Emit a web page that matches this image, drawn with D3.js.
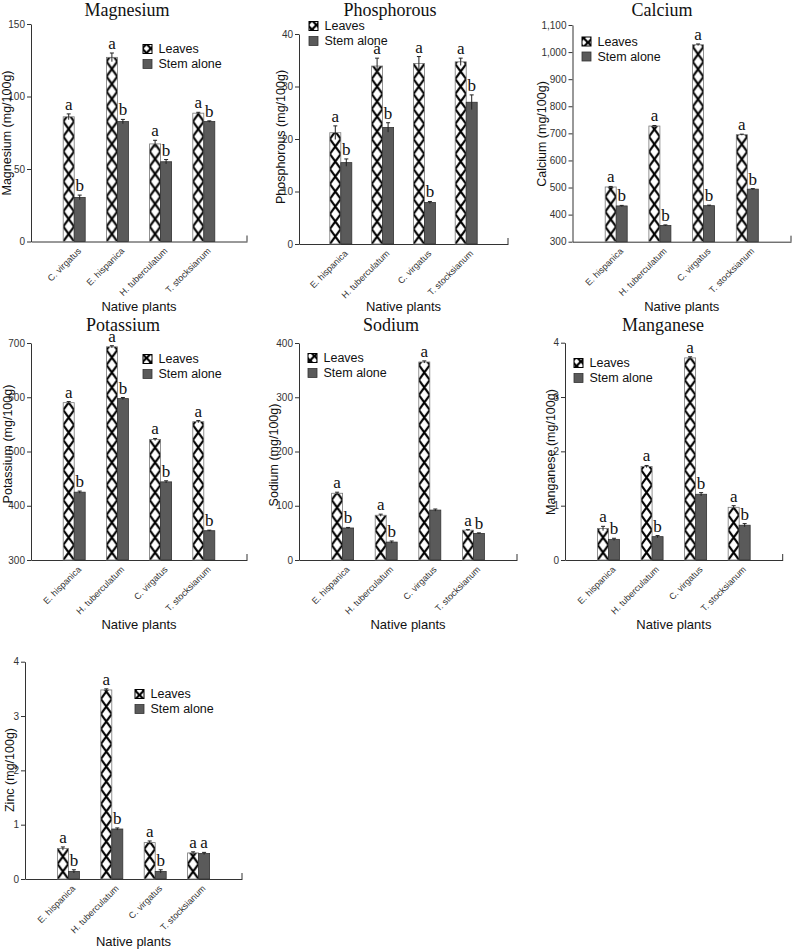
<!DOCTYPE html>
<html>
<head>
<meta charset="utf-8">
<script src="https://cdn.jsdelivr.net/npm/d3@7"></script>
<style>
  body { margin: 0; background: #fff; }
</style>
</head>
<body>
<svg id="chart" width="792" height="950" font-family="'Liberation Sans', Arial, sans-serif"></svg>
<script>
// Categories (order differs in the magnesium panel)
const plantsMg = ['C. virgatus', 'E. hispanica', 'H. tuberculatum', 'T. stocksianum'];
const plants = ['E. hispanica', 'H. tuberculatum', 'C. virgatus', 'T. stocksianum'];

// Magnesium
const mgLeaves = [86, 127, 67.3, 88.5];
const mgStem = [30.4, 82.7, 55, 82.7];
const mgLeavesErr = [2, 3, 2.5, 0.6];
const mgStemErr = [1.6, 1.5, 1.5, 0.5];
const mgTicks = [0, 50, 100, 150];

// Phosphorous
const pLeaves = [21.2, 33.9, 34.4, 34.7];
const pStem = [15.5, 22.2, 7.9, 27.0];
const pLeavesErr = [1.3, 1.5, 1.3, 0.7];
const pStemErr = [0.7, 0.9, 0.2, 1.4];
const pTicks = [0, 10, 20, 30, 40];

// Calcium
const caLeaves = [502, 727, 1027, 695];
const caStem = [432, 360, 433, 494];
const caLeavesErr = [2, 2, 3, 2];
const caStemErr = [2, 2, 2, 2];
const caTicks = [300, 400, 500, 600, 700, 800, 900, 1000, 1100];

// Potassium
const kLeaves = [590, 693, 522, 555];
const kStem = [425, 597.5, 444, 354];
const kLeavesErr = [2, 2, 2, 2];
const kStemErr = [2, 2, 2, 1];
const kTicks = [300, 400, 500, 600, 700];

// Sodium
const naLeaves = [123, 82.5, 365, 55];
const naStem = [59, 33, 92, 49];
const naLeavesErr = [2, 2, 2, 1];
const naStemErr = [1, 2, 2, 1];
const naTicks = [0, 100, 200, 300, 400];

// Manganese
const mnLeaves = [0.58, 1.72, 3.72, 0.97];
const mnStem = [0.38, 0.43, 1.21, 0.64];
const mnLeavesErr = [0.04, 0.02, 0.02, 0.03];
const mnStemErr = [0.02, 0.02, 0.03, 0.03];
const mnTicks = [0, 1, 2, 3, 4];

// Zinc
const znLeaves = [0.56, 3.48, 0.67, 0.48];
const znStem = [0.14, 0.92, 0.14, 0.47];
const znLeavesErr = [0.03, 0.02, 0.03, 0.02];
const znStemErr = [0.03, 0.02, 0.03, 0.02];
const znTicks = [0, 1, 2, 3, 4];

// Significance letters
const lettersLeaves = ['a', 'a', 'a', 'a'];
const lettersStem = ['b', 'b', 'b', 'b'];
const lettersStemNa = ['b', 'b', '', 'b'];
const lettersStemZn = ['b', 'b', 'b', 'a'];

const svg = d3.select('#chart');
const defs = svg.append('defs');

const barW = 11;       // width of each bar
const tileH = 15;      // height of one hatch cell
const stemFill = '#5a5a5a';
const serif = "'Liberation Serif', 'Times New Roman', serif";

function hatch(id, x, y, w, h) {
  const p = defs.append('pattern')
    .attr('id', id)
    .attr('patternUnits', 'userSpaceOnUse')
    .attr('x', x).attr('y', y)
    .attr('width', w).attr('height', h);
  p.append('rect').attr('width', w).attr('height', h).attr('fill', '#fff');
  p.append('path')
    .attr('d', `M0,0L${w},${h}M${w},0L0,${h}`)
    .attr('stroke', '#000')
    .attr('stroke-width', 2.2);
}

function drawPanel(cfg) {
  const { id, box } = cfg;
  const g = svg.append('g');

  const x = d3.scalePoint()
    .domain(cfg.cats)
    .range([box.left, box.right])
    .padding(1);

  const y = d3.scaleLinear()
    .domain(cfg.domain)
    .range([box.bottom, box.top]);

  // y axis
  const yAxis = g.append('g')
    .attr('transform', `translate(${box.left},0)`)
    .call(d3.axisLeft(y).tickValues(cfg.ticks).tickSize(4).tickSizeOuter(0).tickPadding(2)
      .tickFormat(cfg.fmt || d3.format('d')));
  yAxis.select('.domain').attr('stroke', '#333');
  yAxis.selectAll('line').attr('stroke', '#333');
  yAxis.selectAll('text').attr('font-size', '10px').attr('fill', '#333')
    .attr('font-family', "'Liberation Sans Narrow', 'Liberation Sans', Arial, sans-serif");

  // x axis
  const xAxis = g.append('g')
    .attr('transform', `translate(0,${box.bottom})`)
    .call(d3.axisBottom(x).tickSize(0).tickSizeOuter(0));
  xAxis.select('.domain').attr('stroke', '#333');
  xAxis.selectAll('text')
    .attr('font-size', '9px')
    .attr('fill', '#333')
    .attr('font-family', "'Liberation Sans Narrow', 'Liberation Sans', Arial, sans-serif")
    .attr('text-anchor', 'end')
    .attr('x', 0).attr('y', 0).attr('dy', 0)
    .attr('transform', 'translate(7,10) rotate(-45)');
  g.append('line')
    .attr('x1', box.right).attr('x2', box.right)
    .attr('y1', box.bottom).attr('y2', box.bottom - 6)
    .attr('stroke', '#333');

  // bars
  const rows = cfg.cats.map((c, i) => ({
    cat: c, i,
    leaves: cfg.leaves[i], stem: cfg.stem[i],
    le: cfg.leavesErr[i], se: cfg.stemErr[i],
    ll: cfg.lettersL[i], sl: cfg.lettersS[i]
  }));

  rows.forEach(d => {
    hatch(`h-${id}-${d.i}`, x(d.cat) - barW, box.bottom, barW, tileH);
  });

  g.selectAll('rect.leaves')
    .data(rows)
    .enter()
    .append('rect')
    .attr('class', 'leaves')
    .attr('x', d => x(d.cat) - barW)
    .attr('y', d => y(d.leaves))
    .attr('width', barW)
    .attr('height', d => box.bottom - y(d.leaves))
    .attr('fill', d => `url(#h-${id}-${d.i})`)
    .attr('stroke', '#777')
    .attr('stroke-width', 0.8);

  g.selectAll('rect.stem')
    .data(rows)
    .enter()
    .append('rect')
    .attr('class', 'stem')
    .attr('x', d => x(d.cat))
    .attr('y', d => y(d.stem))
    .attr('width', barW)
    .attr('height', d => box.bottom - y(d.stem))
    .attr('fill', stemFill)
    .attr('stroke', '#333')
    .attr('stroke-width', 0.8);

  // error bars and letters
  const series = [
    { key: 'leaves', err: 'le', lab: 'll', dx: -barW / 2 },
    { key: 'stem', err: 'se', lab: 'sl', dx: barW / 2 }
  ];
  series.forEach(s => {
    g.selectAll(null)
      .data(rows)
      .enter()
      .append('path')
      .attr('d', d => {
        const cx = x(d.cat) + s.dx;
        const y1 = y(d[s.key] + d[s.err]);
        const y2 = y(d[s.key] - d[s.err]);
        return `M${cx},${y2}V${y1}M${cx - 2},${y1}H${cx + 2}`;
      })
      .attr('stroke', '#222')
      .attr('stroke-width', 1)
      .attr('fill', 'none');

    g.selectAll(null)
      .data(rows)
      .enter()
      .append('text')
      .attr('x', d => x(d.cat) + s.dx)
      .attr('y', d => y(d[s.key] + d[s.err]) - 4)
      .attr('text-anchor', 'middle')
      .attr('font-family', serif)
      .attr('font-size', '17px')
      .attr('fill', '#111')
      .text(d => d[s.lab]);
  });

  // titles
  if (cfg.title) {
    g.append('text')
      .attr('x', cfg.titlePos[0]).attr('y', cfg.titlePos[1])
      .attr('text-anchor', 'middle')
      .attr('font-family', serif)
      .attr('font-size', '18px')
      .attr('fill', '#111')
      .text(cfg.title);
  }

  g.append('text')
    .attr('transform', `translate(${cfg.yLabelPos[0]},${cfg.yLabelPos[1]}) rotate(-90)`)
    .attr('text-anchor', 'middle')
    .attr('dy', '0.35em')
    .attr('font-size', '12.5px')
    .attr('fill', '#111')
    .text(cfg.yLabel);

  g.append('text')
    .attr('x', (box.left + box.right) / 2)
    .attr('y', cfg.xTitleY)
    .attr('text-anchor', 'middle')
    .attr('font-size', '13px')
    .attr('fill', '#111')
    .text('Native plants');

  // legend
  const lg = g.append('g').attr('transform', `translate(${cfg.legend[0]},${cfg.legend[1]})`);
  hatch(`lg-${id}`, cfg.legend[0], cfg.legend[1] - 4.5, 9, 9);
  lg.append('rect')
    .attr('x', 0).attr('y', -4.5).attr('width', 9).attr('height', 9)
    .attr('fill', `url(#lg-${id})`).attr('stroke', '#000').attr('stroke-width', 1);
  lg.append('rect')
    .attr('x', 0).attr('y', 10.5).attr('width', 9).attr('height', 9)
    .attr('fill', stemFill).attr('stroke', '#333').attr('stroke-width', 0.8);
  lg.append('text').attr('x', 15.5).attr('y', 0).attr('dy', '0.35em')
    .attr('font-size', '12.5px').attr('fill', '#111').text('Leaves');
  lg.append('text').attr('x', 15.5).attr('y', 15).attr('dy', '0.35em')
    .attr('font-size', '12.5px').attr('fill', '#111').text('Stem alone');
}

const panels = [
  { id: 'mg', title: 'Magnesium', cats: plantsMg, leaves: mgLeaves, stem: mgStem,
    leavesErr: mgLeavesErr, stemErr: mgStemErr, lettersL: lettersLeaves, lettersS: lettersStem,
    domain: [0, 150], ticks: mgTicks, yLabel: 'Magnesium (mg/100g)',
    box: { left: 31, right: 247, top: 24, bottom: 241.5 },
    titlePos: [127, 15.5], yLabelPos: [7, 133], xTitleY: 311, legend: [143, 49] },
  { id: 'p', title: 'Phosphorous', cats: plants, leaves: pLeaves, stem: pStem,
    leavesErr: pLeavesErr, stemErr: pStemErr, lettersL: lettersLeaves, lettersS: lettersStem,
    domain: [0, 40], ticks: pTicks, yLabel: 'Phosphorous (mg/100g)',
    box: { left: 299, right: 508, top: 34, bottom: 244 },
    titlePos: [390, 15.5], yLabelPos: [281, 137], xTitleY: 311, legend: [309, 26] },
  { id: 'ca', title: 'Calcium', cats: plants, leaves: caLeaves, stem: caStem,
    leavesErr: caLeavesErr, stemErr: caStemErr, lettersL: lettersLeaves, lettersS: lettersStem,
    domain: [300, 1100], ticks: caTicks, fmt: d3.format(','), yLabel: 'Calcium (mg/100g)',
    box: { left: 572.5, right: 791, top: 25, bottom: 241.7 },
    titlePos: [662, 15.5], yLabelPos: [542, 134], xTitleY: 311, legend: [582, 41.5] },
  { id: 'k', title: 'Potassium', cats: plants, leaves: kLeaves, stem: kStem,
    leavesErr: kLeavesErr, stemErr: kStemErr, lettersL: lettersLeaves, lettersS: lettersStem,
    domain: [300, 700], ticks: kTicks, yLabel: 'Potassium (mg/100g)',
    box: { left: 31, right: 247, top: 343, bottom: 560 },
    titlePos: [123, 331], yLabelPos: [8, 444], xTitleY: 629, legend: [143, 359] },
  { id: 'na', title: 'Sodium', cats: plants, leaves: naLeaves, stem: naStem,
    leavesErr: naLeavesErr, stemErr: naStemErr, lettersL: lettersLeaves, lettersS: lettersStemNa,
    domain: [0, 400], ticks: naTicks, yLabel: 'Sodium (mg/100g)',
    box: { left: 299, right: 517, top: 343, bottom: 560 },
    titlePos: [391, 331], yLabelPos: [274, 455], xTitleY: 629, legend: [308, 358] },
  { id: 'mn', title: 'Manganese', cats: plants, leaves: mnLeaves, stem: mnStem,
    leavesErr: mnLeavesErr, stemErr: mnStemErr, lettersL: lettersLeaves, lettersS: lettersStem,
    domain: [0, 4], ticks: mnTicks, yLabel: 'Manganese (mg/100g)',
    box: { left: 565, right: 782.7, top: 342.7, bottom: 560 },
    titlePos: [663, 331], yLabelPos: [551, 452], xTitleY: 629, legend: [574, 363] },
  { id: 'zn', title: null, cats: plants, leaves: znLeaves, stem: znStem,
    leavesErr: znLeavesErr, stemErr: znStemErr, lettersL: lettersLeaves, lettersS: lettersStemZn,
    domain: [0, 4], ticks: znTicks, yLabel: 'Zinc (mg/100g)',
    box: { left: 25, right: 242, top: 661.7, bottom: 879 },
    titlePos: [0, 0], yLabelPos: [10, 770], xTitleY: 946, legend: [135, 694] }
];

panels.forEach(drawPanel);
</script>
</body>
</html>
